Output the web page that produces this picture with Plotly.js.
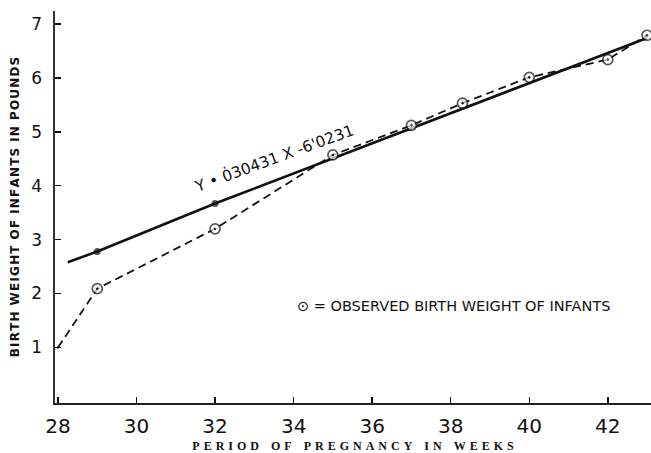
<!DOCTYPE html>
<html>
<head>
<meta charset="utf-8">
<script src="https://cdn.plot.ly/plotly-3.0.1.min.js"></script>
<style>
  html, body { margin: 0; padding: 0; background: #ffffff; }
  #chart { width: 651px; height: 453px; }
</style>
</head>
<body>
<div id="chart"></div>
<script>
// ---- data ----
const weeksObserved  = [28, 29, 32, 35, 37, 38.3, 40, 42, 43];
const weightObserved = [1.0, 2.09, 3.2, 4.57, 5.12, 5.53, 6.01, 6.34, 6.79];
const observedMarked = [false, true, true, true, true, true, true, true, true];

const weeksFitted  = [28.25, 29, 32, 43];
const weightFitted = [2.58, 2.78, 3.67, 6.74];
const fittedMarked = [false, true, true, false];

const xTickValues = [28, 30, 32, 34, 36, 38, 40, 42];
const yTickValues = [1, 2, 3, 4, 5, 6, 7];

const equationText = "Y \u2022 0\u030730431 X -6'0231";
const keyText = "\u2299 = OBSERVED BIRTH WEIGHT OF INFANTS";
const xTitleText = "PERIOD OF PREGNANCY IN WEEKS";
const yTitleText = "BIRTH WEIGHT OF INFANTS IN POUNDS";

function letterSpaced(s, letterGap, wordGap) {
  return s.split(' ').map(w => w.split('').join(letterGap)).join(wordGap);
}

const ink = '#111111';

const fittedTrace = {
  x: weeksFitted, y: weightFitted,
  mode: 'lines+markers',
  line: { color: ink, width: 2.6 },
  marker: { color: ink, size: fittedMarked.map(m => m ? 7 : 0), line: { width: 0 } },
  cliponaxis: false,
  hoverinfo: 'skip'
};

const observedTrace = {
  x: weeksObserved, y: weightObserved,
  mode: 'lines+markers',
  line: { color: ink, width: 1.8, dash: '8px,5px' },
  marker: {
    symbol: 'circle-dot',
    color: '#ffffff',
    size: observedMarked.map(m => m ? 10 : 0),
    line: { color: ink, width: 1.7 }
  },
  cliponaxis: false,
  hoverinfo: 'skip'
};

const layout = {
  width: 651, height: 453,
  margin: { l: 55, r: 0, t: 11, b: 50 },
  paper_bgcolor: '#ffffff', plot_bgcolor: '#ffffff',
  showlegend: false,
  xaxis: {
    range: [27.924, 43.10],
    tickvals: xTickValues,
    ticktext: xTickValues.map(String),
    ticks: 'inside', ticklen: 6, tickwidth: 1.5, tickcolor: ink,
    ticklabelstandoff: 4,
    showline: true, linecolor: '#222222', linewidth: 2,
    showgrid: false, zeroline: false,
    tickfont: { family: 'DejaVu Sans', size: 20, color: ink },
    title: {
      text: letterSpaced(xTitleText, '\u2004', '\u2003'),
      font: { family: 'Liberation Serif', size: 12, color: ink, weight: 'bold' },
      standoff: 8
    }
  },
  yaxis: {
    range: [-0.03, 7.24],
    tickvals: yTickValues,
    ticktext: yTickValues.map(String),
    ticks: 'inside', ticklen: 6, tickwidth: 1.5, tickcolor: ink,
    ticklabelstandoff: 8,
    showline: true, linecolor: '#333333', linewidth: 1.6,
    showgrid: false, zeroline: false,
    tickfont: { family: 'DejaVu Sans', size: 17, color: ink },
    title: {
      text: letterSpaced(yTitleText, '\u200A', '\u2002'),
      font: { family: 'DejaVu Sans', size: 12, color: ink, weight: 'bold' },
      standoff: 9
    }
  },
  annotations: [
    {
      text: equationText,
      xref: 'x', yref: 'y', x: 33.5, y: 4.5,
      showarrow: false, textangle: -20,
      font: { family: 'DejaVu Sans', size: 15.5, color: ink }
    },
    {
      text: keyText,
      xref: 'paper', yref: 'paper', x: 0.402, y: 0.247,
      xanchor: 'left', yanchor: 'middle',
      showarrow: false,
      font: { family: 'DejaVu Sans', size: 14.5, color: ink }
    }
  ]
};

Plotly.newPlot('chart', [fittedTrace, observedTrace], layout, { staticPlot: true, displayModeBar: false });
</script>
</body>
</html>
